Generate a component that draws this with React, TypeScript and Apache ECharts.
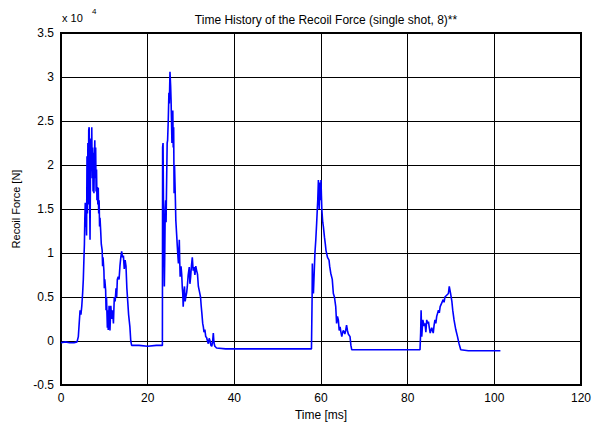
import React, { useEffect, useRef } from "react";
import * as echarts from "echarts";

const chartTitle = "Time History of the Recoil Force (single shot, 8)**";
const xAxisName = "Time [ms]";
const yAxisName = "Recoil Force [N]";
const xTicks = [0, 20, 40, 60, 80, 100, 120];
const yTicks = [-0.5, 0, 0.5, 1, 1.5, 2, 2.5, 3, 3.5];

// time in ms
const timeMs = [
  0, 1.0, 2.0, 3.0, 3.7, 4.0, 4.2, 4.4, 4.6, 4.8, 5.0, 5.15, 5.3, 5.4, 5.5, 5.6, 5.7, 5.8, 5.9, 6.0,
  6.1, 6.2, 6.3, 6.4, 6.5, 6.6, 6.7, 6.8, 6.9, 7.0, 7.1, 7.2, 7.3, 7.4, 7.5, 7.6, 7.7, 7.8, 7.9, 8.0,
  8.1, 8.2, 8.3, 8.4, 8.5, 8.6, 8.7, 8.8, 8.9, 9.0, 9.15, 9.3, 9.5, 9.6, 9.7, 9.9, 10.0, 10.1, 10.3, 10.4,
  10.5, 10.7, 10.8, 10.9, 11.1, 11.3, 11.5, 11.7, 11.9, 12.1, 12.3, 12.5, 12.7, 12.85, 13.0, 13.2, 13.4, 13.6, 13.8, 14.0,
  14.2, 14.4, 14.6, 14.8, 15.0, 15.2, 15.4, 15.6, 15.9, 16.1, 16.3, 18, 20, 22, 23.4,
  23.45, 23.55, 23.7, 23.85, 23.95, 24.05, 24.15, 24.25, 24.4, 24.5, 24.6, 24.75, 24.9, 25.0, 25.15, 25.3, 25.4, 25.5, 25.6, 25.7,
  25.8, 25.9, 26.0, 26.1, 26.2, 26.3, 26.4, 26.5, 26.7, 26.85, 27.0, 27.1, 27.2, 27.3, 27.4, 27.5, 27.7, 27.85, 28.0, 28.1,
  28.2, 28.35, 28.5, 28.65, 28.8, 29.0, 29.15, 29.35, 29.6, 29.75, 29.9, 30.1, 30.3, 30.5, 30.7, 30.9, 31.1, 31.3, 31.5, 31.7,
  31.85, 32.0, 32.2, 32.35, 32.5, 32.7, 32.85, 33.0, 33.2, 33.4, 33.6, 33.8, 34.0, 34.2, 34.4, 34.6, 34.8, 35.0, 35.15, 35.3,
  35.5, 35.9, 38, 42, 46, 50, 54, 57.8,
  57.95, 58.0, 58.1, 58.25, 58.4, 58.6, 58.8, 59.0, 59.15, 59.25, 59.4, 59.5, 59.6, 59.7, 59.8, 59.9, 60.0, 60.1, 60.2, 60.4,
  60.55, 60.8, 61.0, 61.15, 61.5, 61.85, 62.0, 62.25, 62.6, 62.85, 63.1, 63.4, 63.6, 63.8, 64.0, 64.2, 64.4, 64.6, 64.8, 65.0,
  65.15, 65.5, 65.7, 65.9, 66.1, 66.3, 66.7, 66.9, 67.1, 70, 74, 78, 82.85,
  83.0, 83.1, 83.25, 83.5, 83.8, 84.0, 84.2, 84.4, 84.6, 84.8, 85.0, 85.2, 85.55, 85.9, 86.1, 86.3, 86.5, 86.7, 87.1, 87.3,
  87.5, 87.85, 88.2, 88.4, 88.6, 89.0, 89.4, 89.6, 89.75, 89.9, 90.2, 90.4, 90.7, 91.1, 91.5, 91.85, 92.25, 94, 97, 101.4,
];

// force in units of 10^4 N
const forceE4 = [
  -0.02, -0.01, -0.02, -0.02, -0.01, 0.05, 0.2, 0.35, 0.3, 0.4, 0.55, 0.7, 0.95, 1.1, 1.4, 1.57, 1.3, 1.45, 1.2, 2.1,
  1.45, 2.25, 1.55, 2.4, 2.43, 1.7, 1.15, 1.9, 2.3, 1.95, 2.43, 1.85, 2.2, 1.7, 2.14, 1.68, 2.05, 2.28, 1.85, 2.2,
  1.7, 1.95, 1.6, 1.75, 1.55, 1.74, 1.45, 1.6, 1.3, 1.4, 1.26, 1.1, 1.03, 0.85, 0.95, 0.8, 0.6, 0.7, 0.58, 0.35,
  0.5, 0.15, 0.35, 0.125, 0.4, 0.12, 0.4, 0.25, 0.35, 0.2, 0.5, 0.45, 0.6, 0.5, 0.7, 0.73, 0.7, 0.85, 0.95, 1.02,
  0.95, 0.97, 0.82, 0.92, 0.85, 0.6, 0.45, 0.3, 0.16, 0.0, -0.05, -0.05, -0.06, -0.05, -0.05,
  2.2, 2.25, 1.2, 0.62, 1.0, 1.5, 1.6, 1.35, 1.9, 2.25, 2.28, 2.5, 2.82, 2.7, 3.06, 2.9, 2.74, 2.5, 2.25, 2.5,
  2.62, 2.2, 2.43, 1.68, 2.0, 1.8, 1.6, 1.37, 1.2, 1.07, 0.95, 0.88, 1.0, 1.15, 0.9, 0.73, 0.85, 0.76, 0.6, 0.54,
  0.39, 0.55, 0.62, 0.45, 0.5, 0.55, 0.62, 0.75, 0.84, 0.65, 0.72, 0.85, 0.95, 0.8, 0.84, 0.75, 0.85, 0.8, 0.76, 0.62,
  0.62, 0.55, 0.5, 0.4, 0.32, 0.2, 0.16, 0.1, 0.13, 0.05, 0.04, 0.0, -0.03, 0.03, 0.0, -0.05, -0.06, 0.0, 0.09, -0.02,
  -0.06, -0.08, -0.09, -0.09, -0.09, -0.09, -0.09, -0.09,
  0.5, 0.88, 0.6, 0.54, 0.54, 1.0, 1.15, 1.34, 1.5, 1.6, 1.83, 1.7, 1.5, 1.75, 1.8, 1.6, 1.83, 1.65, 1.49, 1.35,
  1.3, 1.18, 1.1, 1.03, 0.95, 0.92, 0.85, 0.77, 0.7, 0.54, 0.5, 0.39, 0.2, 0.28, 0.24, 0.12, 0.16, 0.1, 0.05, 0.1,
  0.12, 0.08, 0.12, 0.18, 0.12, 0.08, 0.05, -0.05, -0.1, -0.1, -0.1, -0.1, -0.1,
  0.1, 0.35, 0.05, 0.24, 0.17, 0.2, 0.1, 0.24, 0.2, 0.22, 0.15, 0.09, 0.15, 0.09, 0.18, 0.24, 0.2, 0.28, 0.35, 0.32,
  0.39, 0.43, 0.47, 0.44, 0.5, 0.52, 0.54, 0.62, 0.58, 0.54, 0.45, 0.35, 0.24, 0.13, 0.05, -0.03, -0.1, -0.11, -0.11, -0.11,
];

const FONT = "Liberation Sans, Arial, sans-serif";

export default function App() {
  const ref = useRef<HTMLDivElement>(null);

  useEffect(() => {
    if (!ref.current) return;
    const chart = echarts.init(ref.current, undefined, { renderer: "svg" });
    const data = timeMs.map((t, i) => [t, forceE4[i]]);
    chart.setOption({
      animation: false,
      backgroundColor: "#ffffff",
      title: {
        text: chartTitle,
        left: 321,
        top: 9,
        textAlign: "center",
        textStyle: { fontFamily: FONT, fontSize: 12, fontWeight: "normal", color: "#000" },
      },
      graphic: [
        {
          type: "text",
          left: 62,
          top: 12,
          style: { text: "x 10", font: `11px ${FONT}`, fill: "#000" },
        },
        {
          type: "text",
          left: 92,
          top: 7,
          style: { text: "4", font: `8px ${FONT}`, fill: "#000" },
        },
      ],
      grid: {
        left: 61,
        right: 15,
        top: 33,
        bottom: 38,
        containLabel: false,
        outerBoundsMode: "none",
        show: true,
        borderColor: "#000",
        borderWidth: 2,
        backgroundColor: "transparent",
      },
      xAxis: {
        type: "value",
        min: xTicks[0],
        max: xTicks[xTicks.length - 1],
        interval: xTicks[1] - xTicks[0],
        name: xAxisName,
        nameLocation: "middle",
        nameGap: 23,
        nameTextStyle: { fontFamily: FONT, fontSize: 12, color: "#000" },
        axisLine: { show: true, onZero: false, lineStyle: { color: "#000", width: 2 } },
        axisTick: { show: true, inside: true, length: 5, lineStyle: { color: "#000" } },
        axisLabel: { fontFamily: FONT, fontSize: 12, color: "#000", margin: 7 },
        splitLine: { show: true, lineStyle: { color: "#000", width: 1 } },
      },
      yAxis: {
        type: "value",
        min: yTicks[0],
        max: yTicks[yTicks.length - 1],
        interval: yTicks[1] - yTicks[0],
        name: yAxisName,
        nameLocation: "middle",
        nameGap: 40,
        nameRotate: 90,
        nameTextStyle: { fontFamily: FONT, fontSize: 11, color: "#000" },
        axisLine: { show: true, onZero: false, lineStyle: { color: "#000", width: 2 } },
        axisTick: { show: true, inside: true, length: 5, lineStyle: { color: "#000" } },
        axisLabel: { fontFamily: FONT, fontSize: 12, color: "#000", margin: 7 },
        splitLine: { show: true, lineStyle: { color: "#000", width: 1 } },
      },
      series: [
        {
          type: "line",
          data,
          showSymbol: false,
          symbol: "none",
          lineStyle: { color: "#0000ff", width: 1.6 },
          itemStyle: { color: "#0000ff" },
        },
      ],
    });
    return () => chart.dispose();
  }, []);

  return (
    <div
      ref={ref}
      style={{ position: "fixed", left: 0, top: 0, width: 596, height: 423, background: "#fff" }}
    />
  );
}
